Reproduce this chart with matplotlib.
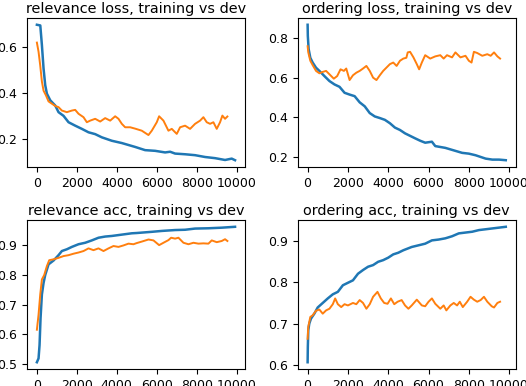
import matplotlib
matplotlib.use("Agg")
import matplotlib.pyplot as plt

# relevance loss
rl_train_x = [0, 170, 250, 333, 417, 500, 667, 917, 1083, 1333, 1583, 1917, 2250, 2583,
              2917, 3250, 3750, 4250, 4917, 5417, 5917, 6417, 6667, 6917, 7417, 7917,
              8417, 8917, 9417, 9750, 9917]
rl_train_y = [0.698, 0.695, 0.61, 0.507, 0.434, 0.397, 0.368, 0.345, 0.316, 0.30, 0.272,
              0.257, 0.243, 0.228, 0.22, 0.206, 0.191, 0.181, 0.164, 0.15, 0.147, 0.14,
              0.143, 0.135, 0.132, 0.128, 0.12, 0.115, 0.107, 0.113, 0.106]
rl_dev_x = [0, 83, 167, 250, 333, 450, 583, 750, 917, 1083, 1250, 1500, 1750, 1917, 2083,
            2333, 2500, 2667, 2917, 3167, 3417, 3667, 3917, 4083, 4250, 4417, 4667, 4917,
            5250, 5583, 5750, 6000, 6117, 6333, 6583, 6750, 7000, 7167, 7417, 7667, 7917,
            8167, 8333, 8500, 8667, 8833, 9000, 9167, 9283, 9417, 9533]
rl_dev_y = [0.62, 0.58, 0.52, 0.45, 0.41, 0.39, 0.363, 0.353, 0.343, 0.338, 0.323, 0.316,
            0.323, 0.326, 0.309, 0.294, 0.272, 0.279, 0.287, 0.275, 0.29, 0.279, 0.298,
            0.287, 0.265, 0.25, 0.25, 0.244, 0.235, 0.216, 0.235, 0.272, 0.298, 0.279,
            0.235, 0.243, 0.221, 0.25, 0.257, 0.243, 0.265, 0.279, 0.294, 0.272, 0.265,
            0.272, 0.243, 0.272, 0.301, 0.287, 0.297]

# ordering loss
ol_train_x = [0, 10, 50, 133, 250, 417, 583, 833, 1083, 1333, 1583, 1833, 2083, 2333,
              2583, 2833, 3083, 3333, 3583, 3833, 4083, 4333, 4583, 4835, 5335, 5585,
              5835, 6168, 6335, 6835, 7335, 7668, 8002, 8335, 8835, 9168, 9502, 9835]
ol_train_y = [0.866, 0.81, 0.744, 0.70, 0.676, 0.65, 0.634, 0.608, 0.583, 0.566, 0.554,
              0.524, 0.515, 0.507, 0.476, 0.456, 0.422, 0.405, 0.397, 0.388, 0.371, 0.349,
              0.337, 0.32, 0.295, 0.283, 0.273, 0.278, 0.256, 0.247, 0.232, 0.222, 0.218,
              0.21, 0.193, 0.188, 0.188, 0.185]
ol_dev_x = [0, 33, 133, 250, 417, 583, 750, 917, 1083, 1300, 1467, 1633, 1800, 1917, 2083,
            2250, 2417, 2583, 2750, 2917, 3083, 3250, 3417, 3583, 3750, 3917, 4083, 4250,
            4417, 4583, 4750, 4900, 4968, 5085, 5252, 5418, 5535, 5668, 5835, 6085, 6335,
            6585, 6752, 6918, 7168, 7335, 7585, 7835, 8002, 8135, 8252, 8418, 8668, 8918,
            9085, 9252, 9418, 9552]
ol_dev_y = [0.758, 0.727, 0.685, 0.663, 0.634, 0.622, 0.629, 0.634, 0.617, 0.595, 0.608,
            0.642, 0.634, 0.646, 0.588, 0.612, 0.625, 0.634, 0.646, 0.659, 0.634, 0.60,
            0.588, 0.612, 0.634, 0.651, 0.668, 0.676, 0.659, 0.685, 0.696, 0.70, 0.727,
            0.73, 0.702, 0.668, 0.642, 0.676, 0.713, 0.696, 0.707, 0.713, 0.696, 0.713,
            0.702, 0.727, 0.702, 0.71, 0.685, 0.676, 0.73, 0.724, 0.71, 0.718, 0.71, 0.727,
            0.707, 0.696]

# relevance acc
ra_train_x = [0, 83, 133, 183, 250, 333, 417, 583, 833, 1083, 1250, 1500, 1750, 2083,
              2417, 2750, 3083, 3417, 3750, 4083, 4417, 4750, 5000, 5751, 6251, 6918, 7418,
              7918, 8585, 9251, 9918]
ra_train_y = [0.505, 0.518, 0.563, 0.654, 0.734, 0.773, 0.80, 0.836, 0.849, 0.867, 0.881,
              0.887, 0.895, 0.904, 0.909, 0.917, 0.926, 0.93, 0.932, 0.935, 0.938, 0.941,
              0.942, 0.946, 0.949, 0.952, 0.953, 0.957, 0.958, 0.96, 0.963]
ra_dev_x = [0, 83, 167, 250, 367, 500, 617, 833, 1083, 1333, 1583, 1833, 2083, 2333, 2583,
            2833, 3083, 3333, 3583, 3833, 4083, 4333, 4583, 4833, 5000, 5251, 5585, 5835,
            6118, 6335, 6585, 6718, 6918, 7085, 7335, 7585, 7835, 8085, 8335, 8585, 8751,
            9001, 9251, 9418, 9535]
ra_dev_y = [0.615, 0.666, 0.734, 0.785, 0.80, 0.83, 0.85, 0.853, 0.858, 0.864, 0.867, 0.872,
            0.876, 0.881, 0.89, 0.884, 0.89, 0.881, 0.89, 0.898, 0.895, 0.90, 0.906, 0.904,
            0.908, 0.913, 0.92, 0.917, 0.901, 0.909, 0.918, 0.926, 0.923, 0.926, 0.909,
            0.904, 0.909, 0.906, 0.907, 0.906, 0.917, 0.911, 0.915, 0.921, 0.915]

# ordering acc
oa_train_x = [0, 10, 33, 83, 167, 333, 500, 750, 1000, 1250, 1500, 1750, 2000, 2250, 2500,
              2750, 3000, 3250, 3500, 3750, 4000, 4250, 4500, 4750, 5168, 5502, 5835, 6168,
              6502, 6835, 7168, 7502, 7835, 8168, 8502, 8835, 9168, 9502, 9835]
oa_train_y = [0.606, 0.643, 0.684, 0.70, 0.712, 0.724, 0.739, 0.75, 0.761, 0.771, 0.777,
              0.793, 0.799, 0.805, 0.821, 0.83, 0.838, 0.842, 0.85, 0.854, 0.86, 0.868,
              0.872, 0.878, 0.886, 0.89, 0.894, 0.902, 0.904, 0.907, 0.912, 0.919, 0.921,
              0.923, 0.927, 0.929, 0.931, 0.933, 0.935]
oa_dev_x = [0, 33, 133, 250, 417, 583, 750, 917, 1083, 1250, 1367, 1500, 1667, 1833, 2000,
            2250, 2417, 2583, 2750, 2917, 3083, 3250, 3467, 3633, 3800, 3967, 4133, 4300,
            4467, 4667, 4835, 5002, 5168, 5418, 5668, 5835, 6002, 6168, 6335, 6585, 6752,
            6885, 7085, 7252, 7418, 7552, 7702, 7918, 8085, 8252, 8418, 8585, 8752, 8918,
            9135, 9252, 9418, 9552]
oa_dev_y = [0.663, 0.692, 0.716, 0.72, 0.731, 0.734, 0.724, 0.732, 0.736, 0.747, 0.761,
            0.747, 0.74, 0.747, 0.744, 0.75, 0.747, 0.757, 0.75, 0.736, 0.747, 0.765, 0.777,
            0.761, 0.75, 0.748, 0.761, 0.747, 0.753, 0.757, 0.744, 0.736, 0.744, 0.758,
            0.744, 0.742, 0.753, 0.761, 0.748, 0.736, 0.744, 0.732, 0.744, 0.75, 0.744,
            0.753, 0.74, 0.753, 0.765, 0.758, 0.753, 0.757, 0.765, 0.753, 0.742, 0.739,
            0.75, 0.753]

titles = ["relevance loss, training vs dev", "ordering loss, training vs dev",
          "relevance acc, training vs dev", "ordering acc, training vs dev"]

paineis = [
    (rl_train_x, rl_train_y, rl_dev_x, rl_dev_y, [0.2, 0.4, 0.6]),
    (ol_train_x, ol_train_y, ol_dev_x, ol_dev_y, [0.2, 0.4, 0.6, 0.8]),
    (ra_train_x, ra_train_y, ra_dev_x, ra_dev_y, [0.5, 0.6, 0.7, 0.8, 0.9]),
    (oa_train_x, oa_train_y, oa_dev_x, oa_dev_y, [0.6, 0.7, 0.8, 0.9]),
]

posicoes = [
    [0.0513, 0.5674, 0.4144, 0.386],
    [0.5660, 0.5674, 0.4144, 0.386],
    [0.0513, 0.0440, 0.4144, 0.386],
    [0.5660, 0.0440, 0.4144, 0.386],
]

fig = plt.figure(figsize=(5.26, 3.86), dpi=100)

for i in range(4):
    tx, ty, dx, dy, yticks = paineis[i]
    ax = fig.add_axes(posicoes[i])
    ax.plot(tx, ty, color="#1f77b4", linewidth=1.8)
    ax.plot(dx, dy, color="#ff7f0e", linewidth=1.4)
    ax.set_title(titles[i], fontsize=10.4, pad=3.5)
    ax.set_xticks([0, 2000, 4000, 6000, 8000, 10000])
    ax.set_yticks(yticks)
    ax.tick_params(labelsize=9)

fig.savefig("out.png", dpi=100)
